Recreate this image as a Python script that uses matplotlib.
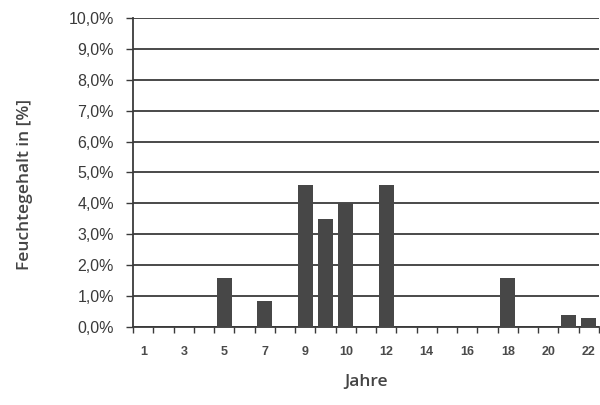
import numpy as np
import matplotlib.pyplot as plt
from matplotlib.ticker import FixedLocator

# years (category axis), one extra slot between 9 and 10
jahre = ["1", "2", "3", "4", "5", "6", "7", "8", "9", "9", "10", "11", "12",
         "13", "14", "15", "16", "17", "18", "19", "20", "21", "22"]
feuchte = [0, 0, 0, 0, 1.6, 0, 0.85, 0, 4.6, 3.5, 4.0, 0, 4.6,
           0, 0, 0, 0, 0, 1.6, 0, 0, 0.4, 0.3]  # percent

grid_col = "#3a3a3a"
bar_col = "#474747"

fig = plt.figure(figsize=(6, 4.05), dpi=100)
ax = fig.add_axes([0.222, 0.1926, 0.776, 0.763])

x = np.arange(len(jahre))
ax.bar(x, feuchte, width=0.72, color=bar_col, zorder=3)

ax.set_xlim(-0.5, len(jahre) - 0.5)
ax.set_ylim(0, 10)
ax.set_yticks(np.arange(0, 11, 1))
ax.set_yticklabels([f"{v:.1f}%".replace(".", ",") for v in range(11)],
                   fontsize=11.5, family="Liberation Sans", color="#3a3a3a")
ax.yaxis.grid(True, color=grid_col, linewidth=1.3, zorder=0)

# category labels on every other slot, ticks on slot boundaries
ax.set_xticks(x[::2])
ax.set_xticklabels(jahre[::2], fontsize=9, family="Liberation Sans",
                   fontweight="bold", color="#4a4a4a")
ax.tick_params(axis="x", which="major", length=0, pad=14)
ax.xaxis.set_minor_locator(FixedLocator(np.arange(-0.5, len(jahre), 1)))
ax.tick_params(axis="x", which="minor", length=4, width=1, color=grid_col,
               direction="out")
ax.tick_params(axis="y", length=5, width=1, color=grid_col, pad=9)

for s in ["top", "right"]:
    ax.spines[s].set_visible(False)
for s in ["left", "bottom"]:
    ax.spines[s].set_color(grid_col)
    ax.spines[s].set_linewidth(1.3)

ax.set_ylabel("Feuchtegehalt in [%]", fontsize=12.5, family="Open Sans",
              fontweight="semibold", color="#444444")
ax.yaxis.set_label_coords(-0.216, 0.46)
ax.set_xlabel("Jahre", fontsize=12.5, family="Open Sans",
              fontweight="semibold", color="#444444", labelpad=11)

fig.savefig("out.png", dpi=100)
